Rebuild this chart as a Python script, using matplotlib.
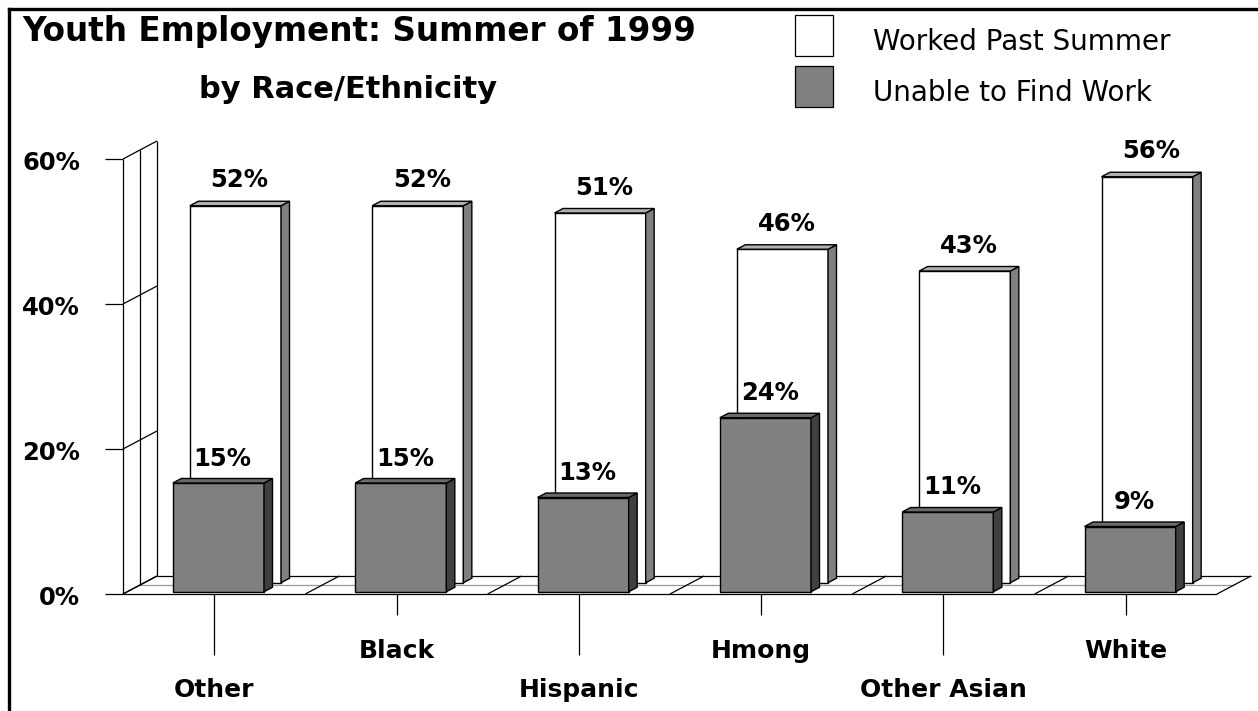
import numpy as np
import matplotlib.pyplot as plt
from matplotlib.patches import Polygon, Rectangle
from matplotlib.lines import Line2D

groups = ['Other', 'Black', 'Hispanic', 'Hmong', 'Other Asian', 'White']
worked = [52, 52, 51, 46, 43, 56]
no_work = [15, 15, 13, 24, 11, 9]
y_ticks = [0, 20, 40, 60]
y_tick_labels = ['0%', '20%', '40%', '60%']

plt.rcParams['font.family'] = 'DejaVu Sans'

W, H = 1258, 711
fig = plt.figure(figsize=(W / 100, H / 100), dpi=100)
ax = fig.add_axes([123 / W, 1 - 594 / H, 1094 / W, 435 / H])
ax.set_xlim(0, len(groups))
ax.set_ylim(0, 60)
ax.axis('off')

# data units per screen pixel, taken from the axes scale
(x0, y0), (x1, y1) = ax.transData.transform([(0, 0), (1, 1)])
ux = 1.0 / (x1 - x0)
uy = 1.0 / (y1 - y0)
DX, DY = 34, 18  # depth of the floor in pixels


def pt(x, y, d):
    return (x + d * DX * ux, y + d * DY * uy)


def line(xs, ys, ds, **kw):
    p = [pt(x, y, d) for x, y, d in zip(xs, ys, ds)]
    ax.add_line(Line2D([q[0] for q in p], [q[1] for q in p], clip_on=False,
                       solid_capstyle='butt', **kw))


def poly(pts, fc, z):
    ax.add_patch(Polygon(pts, closed=True, fc=fc, ec='black', lw=1.0,
                         joinstyle='miter', clip_on=False, zorder=z))


def bar3d(xc, h, d0, d1, front, side, top, z):
    l, r = xc - 0.25, xc + 0.25
    poly([pt(l, 0, d0), pt(r, 0, d0), pt(r, h, d0), pt(l, h, d0)], front, z)
    poly([pt(r, 0, d0), pt(r, 0, d1), pt(r, h, d1), pt(r, h, d0)], side, z)
    poly([pt(l, h, d0), pt(r, h, d0), pt(r, h, d1), pt(l, h, d1)], top, z)


n = len(groups)
lk = dict(color='black', lw=0.9, zorder=1)

# floor
line([0, n], [0, 0], [0, 0], **lk)
line([0, n], [0, 0], [1, 1], **lk)
line([0, n], [0, 0], [0.5, 0.5], color='#9a9a9a', lw=0.9, zorder=1)
for i in range(n + 1):
    line([i, i], [0, 0], [0, 1], **lk)

# side wall
for d in [0, 0.5, 1]:
    line([0, 0], [0, 60], [d, d], **lk)
for v, lab in zip(y_ticks, y_tick_labels):
    line([0, 0], [v, v], [0, 1], **lk)
    line([-18 * ux, 0], [v, v], [0, 0], **lk)
    ax.text(-43 * ux, v - 4 * uy, lab, ha='right', va='center',
            fontsize=17.5, fontweight='bold')

# bars: back row then front row
for i, v in enumerate(worked):
    bar3d(i + 0.5, v, 0.625, 0.875, 'white', '#808080', '#b0b0b0', 2)
    cx, cy = pt(i + 0.5, v, 0.75)
    ax.text(cx, v + 0.875 * DY * uy + 21 * uy, f'{v}%', ha='center',
            va='center', fontsize=17.5, fontweight='bold', zorder=5)
for i, v in enumerate(no_work):
    bar3d(i + 0.5, v, 0.125, 0.375, '#808080', '#404040', '#6a6a6a', 3)
    cx, cy = pt(i + 0.5, v, 0.25)
    ax.text(cx, v + 0.375 * DY * uy + 20 * uy, f'{v}%', ha='center',
            va='center', fontsize=17.5, fontweight='bold', zorder=5)

# category ticks and staggered labels
for i, g in enumerate(groups):
    tick = 61 if i % 2 == 0 else 21
    ypos = 96 if i % 2 == 0 else 57
    line([i + 0.5, i + 0.5], [0, -tick * uy], [0, 0], **lk)
    ax.text(i + 0.5, -ypos * uy, g, ha='center', va='center',
            fontsize=18, fontweight='bold')

# title
fig.text(22 / W, 1 - 31 / H, 'Youth Employment: Summer of 1999', ha='left',
         va='center', fontsize=23.5, fontweight='bold')
fig.text(348 / W, 1 - 89 / H, 'by Race/Ethnicity', ha='center',
         va='center', fontsize=22, fontweight='bold')

# legend
for (top, fc, lab) in [(15, 'white', 'Worked Past Summer'),
                       (66, '#808080', 'Unable to Find Work')]:
    fig.patches.append(Rectangle((795 / W, 1 - (top + 41) / H), 38 / W, 41 / H,
                                 fc=fc, ec='black', lw=0.9,
                                 transform=fig.transFigure))
    fig.text(873 / W, 1 - (top + 27) / H, lab, ha='left', va='center',
             fontsize=20)

# outer frame (top and left edges visible)
fig.add_artist(Line2D([9 / W, 1], [1 - 8.5 / H, 1 - 8.5 / H], color='black',
                      lw=2.4, transform=fig.transFigure))
fig.add_artist(Line2D([9 / W, 9 / W], [0, 1 - 8.5 / H], color='black',
                      lw=2.4, transform=fig.transFigure))

fig.savefig('out.png', dpi=100)
